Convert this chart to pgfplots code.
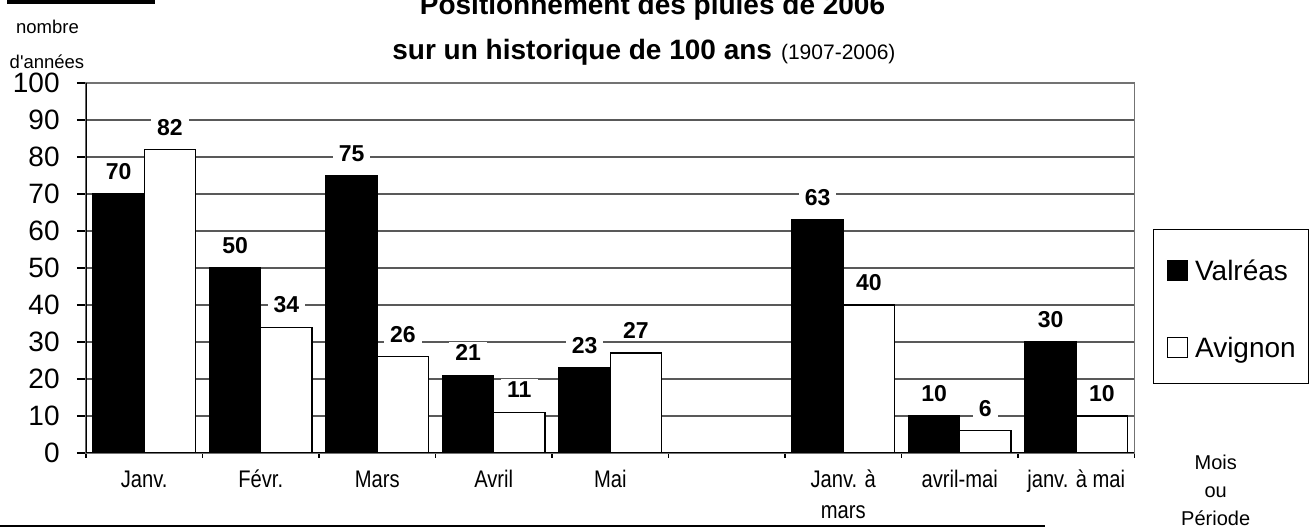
\documentclass[border=0pt]{standalone}
\usepackage{fontspec}
\setmainfont{Liberation Sans}
\newfontfamily\narrow[FakeStretch=0.84]{Liberation Sans}
\newfontfamily\plainap[Ligatures=TeXOff]{Liberation Sans}
\usepackage{pgfplots}
\pgfplotsset{compat=1.18}
\begin{document}
\begin{tikzpicture}
\useasboundingbox (0,0) rectangle (655.5pt,-264pt);
% cut-off heading underline at the very top
\fill[black] (3.5pt,0pt) rectangle (77.5pt,-2pt);
\node[anchor=base,font=\fontsize{9.25}{11}\selectfont,inner sep=0pt] at (23.75pt,-17pt) {nombre};
\node[anchor=base,font=\plainap\fontsize{9.25}{11}\selectfont,inner sep=0pt] at (23.5pt,-34.5pt) {d'années};
\node[anchor=base,font=\bfseries\fontsize{14}{16}\selectfont,inner sep=0pt] at (326.25pt,-7.25pt) {Positionnement des pluies de 2006};
\node[anchor=base west,inner sep=0pt] at (196pt,-29.65pt) {\bfseries\fontsize{14}{16}\selectfont sur un historique de 100 ans\hspace{4.5pt}\mdseries\fontsize{10.5}{12}\selectfont(1907-2006)};
\node[anchor=base,font=\fontsize{10}{12}\selectfont,inner sep=0pt] at (607.85pt,-235pt) {Mois};
\node[anchor=base,font=\fontsize{10}{12}\selectfont,inner sep=0pt] at (607.85pt,-249pt) {ou};
\node[anchor=base,font=\fontsize{10}{12}\selectfont,inner sep=0pt] at (607.85pt,-262.5pt) {Période};
% bottom rule
\draw[black,line width=1pt] (0pt,-263pt) -- (522.5pt,-263pt);
\begin{axis}[
  scale only axis,
  width=524.25pt, height=185pt,
  at={(43pt,-226.5pt)}, anchor=south west,
  ybar=0pt, bar width=0.44,
  xmin=-0.5, xmax=8.5, ymin=0, ymax=100,
  ytick={0,10,...,100},
  xtick={0,1,2,3,4,6,7,8},
  xticklabels={\strut Janv.,\strut Févr.,\strut Mars,\strut Avril,\strut Mai,{\strut Janv. à\\mars},\strut avril-mai,\strut janv. à mai},
  minor xtick={-0.5,0.5,...,8.5},
  xtick pos=left, ytick pos=left,
  tick align=outside,
  major tick length=4.5pt, minor tick length=2.5pt,
  tick style={black,line width=0.6pt},
  major x tick style={draw=none},
  axis line style={black!55,line width=0.6pt},
  ymajorgrids,
  major grid style={black!65,line width=0.6pt},
  /pgf/number format/assume math mode=true,
  yticklabel style={font=\fontsize{14}{16}\selectfont,inner xsep=0pt,xshift=-8.5pt},
  xticklabel style={font=\narrow\fontsize{12}{15.5}\selectfont,align=center,anchor=north,inner sep=0pt,yshift=-1.65pt},
  nodes near coords,
  every node near coord/.append style={font=\bfseries\fontsize{11.5}{13}\selectfont,fill=white,draw=none,text=black,inner xsep=3pt,inner ysep=1pt,text height=8.2pt,text depth=0pt,yshift=5.9pt},
  legend style={at={(1.01765,0.6054)},anchor=north west,draw=black,line width=0.6pt,
    font=\fontsize{14}{16}\selectfont,inner xsep=6.5pt,inner ysep=11pt,row sep=22pt,
    nodes={inner sep=0pt,text height=14.5pt,text depth=2pt}},
  legend cell align=left,
]
\addplot[fill=black,draw=black,line width=0.6pt,
  legend image code/.code={\draw[fill=black,draw=black,line width=0.5pt] (0pt,-6.25pt) rectangle (10pt,3.75pt); \path[draw=none,fill=none] (0pt,0pt) -- (14pt,0pt);}]
  coordinates {(0,70) (1,50) (2,75) (3,21) (4,23) (6,63) (7,10) (8,30)};
\addlegendentry{Valréas}
\addplot[fill=white,draw=black,line width=0.6pt,
  legend image code/.code={\draw[fill=white,draw=black,line width=0.5pt] (0pt,-6.25pt) rectangle (10pt,3.75pt); \path[draw=none,fill=none] (0pt,0pt) -- (14pt,0pt);}]
  coordinates {(0,82) (1,34) (2,26) (3,11) (4,27) (6,40) (7,6) (8,10)};
\addlegendentry{Avignon}
\draw[black,line width=0.7pt] (rel axis cs:0,1) -- (rel axis cs:0,0) -- (rel axis cs:1,0);
\end{axis}
\end{tikzpicture}
\end{document}
